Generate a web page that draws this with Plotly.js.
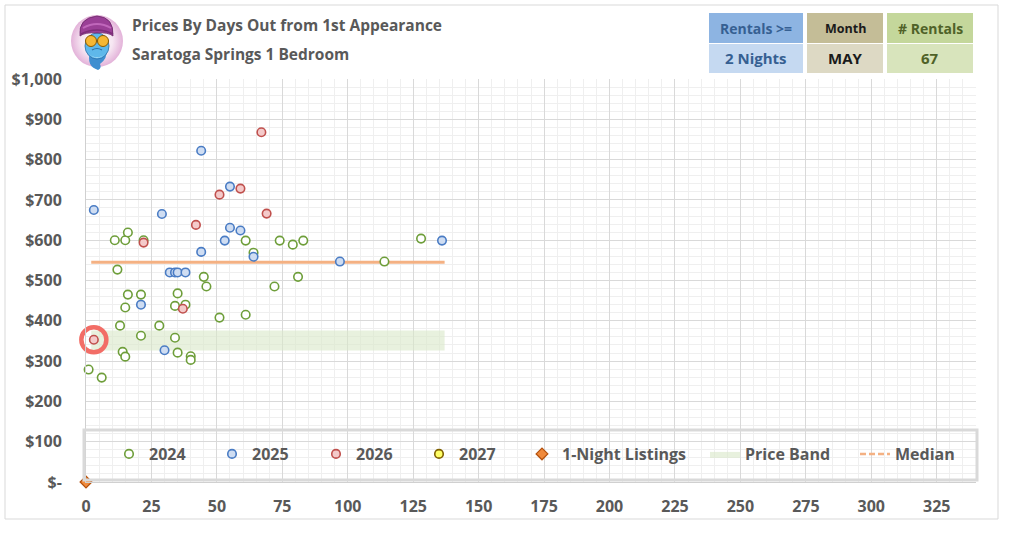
<!DOCTYPE html>
<html>
<head>
<meta charset="utf-8">
<script src="https://cdn.plot.ly/plotly-3.0.1.min.js"></script>
<style>
  html, body { margin: 0; padding: 0; background: #ffffff; }
  #wrap { position: relative; width: 1010px; height: 533px; }
  #chart { width: 1010px; height: 533px; }
  #logo { position: absolute; left: 68px; top: 12px; width: 58px; height: 60px; pointer-events: none; }
</style>
</head>
<body>
<div id="wrap">
  <div id="chart"></div>
  <svg id="logo" viewBox="0 0 58 60" xmlns="http://www.w3.org/2000/svg">
    <defs>
      <radialGradient id="halo" cx="50%" cy="50%" r="50%">
        <stop offset="0%" stop-color="#ffffff"/>
        <stop offset="60%" stop-color="#f6e6f2"/>
        <stop offset="100%" stop-color="#e3b2d9"/>
      </radialGradient>
    </defs>
    <circle cx="29" cy="29" r="26" fill="url(#halo)"/>
    <path d="M22,40 Q18,54 30,58 Q34,56 32,52 Q40,46 38,38 Z" fill="#3f8fd0"/>
    <ellipse cx="29" cy="34" rx="12" ry="13" fill="#5fb8ea" stroke="#2c6fa8" stroke-width="0.8"/>
    <path d="M21,42 Q29,50 37,42 Q33,46 29,45 Q25,46 21,42 Z" fill="#a8dcf7"/>
    <path d="M12,24 Q10,6 29,4 Q46,5 45,24 Q40,20 29,21 Q17,20 12,24 Z" fill="#9a3f96" stroke="#6b2668" stroke-width="0.8"/>
    <path d="M15,16 Q29,8 43,16" stroke="#c067bb" stroke-width="2" fill="none"/>
    <path d="M13,22 Q29,14 45,22" stroke="#7d2d79" stroke-width="1.5" fill="none"/>
    <circle cx="23" cy="29" r="5.5" fill="#f7b733" stroke="#8a5a00" stroke-width="1"/>
    <circle cx="35" cy="29" r="5.5" fill="#f7b733" stroke="#8a5a00" stroke-width="1"/>
    <path d="M28.5,29 h1" stroke="#8a5a00" stroke-width="1"/>
    <path d="M24,38 Q29,35 34,38" stroke="#2c6fa8" stroke-width="1.2" fill="none"/>
  </svg>
</div>
<script>
// ---------------- DATA ----------------
const x2024 = [11, 15, 16, 22, 12, 61, 45, 46, 16, 21, 15, 35, 34, 38, 51, 61, 13, 28, 21, 34, 14, 15, 35, 40, 40, 1, 6, 74, 79, 83, 64, 81, 72, 114, 128];
const y2024 = [600, 600, 619, 600, 527, 599, 509, 485, 465, 465, 433, 468, 437, 440, 408, 415, 388, 388, 363, 358, 323, 311, 321, 312, 303, 279, 259, 599, 589, 599, 569, 509, 485, 547, 604];

const x2025 = [3, 29, 44, 55, 55, 59, 53, 44, 32, 34, 35, 38, 21, 30, 64, 97, 136];
const y2025 = [675, 665, 822, 733, 631, 624, 599, 571, 520, 520, 520, 520, 440, 327, 559, 547, 599];

const x2026 = [22, 51, 59, 42, 37, 3, 67, 69];
const y2026 = [594, 713, 728, 638, 430, 353, 868, 666];

// no 2027 listings yet (legend entry only)
const x2027 = [null];
const y2027 = [null];

const oneNightX = [0];
const oneNightY = [0];

const medianX = [2, 137];
const medianValue = 545;

const bandX = [2, 137];
const bandLow = 326;
const bandHigh = 376;

const highlightSeriesIndex = 5; // the highlighted 2026 listing

const xTickVals = [0, 25, 50, 75, 100, 125, 150, 175, 200, 225, 250, 275, 300, 325];
const yTickVals = [0, 100, 200, 300, 400, 500, 600, 700, 800, 900, 1000];
const yTickLabels = ['$-', '$100', '$200', '$300', '$400', '$500', '$600', '$700', '$800', '$900', '$1,000'];

const titleLine1 = 'Prices By Days Out from 1st Appearance';
const titleLine2 = 'Saratoga Springs 1 Bedroom';
const boxHeaders = ['Rentals >=', 'Month', '# Rentals'];
const boxValues = ['2 Nights', 'MAY', '67'];

// ---------------- GEOMETRY (pixels -> paper) ----------------
const L = 86, R = 976, T = 79, B = 482;
function px(v) { return (v - L) / (R - L); }
function py(v) { return (B - v) / (B - T); }

const FONT = 'Open Sans, Noto Sans, sans-serif';
const GREY = '#595959';

// ---------------- TRACES ----------------
const traces = [];

traces.push({
  type: 'scatter', mode: 'lines', name: 'Price Band',
  x: [bandX[0], bandX[1], bandX[1], bandX[0], bandX[0]],
  y: [bandLow, bandLow, bandHigh, bandHigh, bandLow],
  fill: 'toself', fillcolor: 'rgba(216,232,200,0.6)',
  line: { width: 0, color: 'rgba(0,0,0,0)' },
  legend: 'legend6', hoverinfo: 'skip'
});

traces.push({
  type: 'scatter', mode: 'lines', name: 'Median',
  x: medianX, y: medianX.map(() => medianValue),
  line: { color: '#F4B183', width: 3 },
  showlegend: false, hoverinfo: 'skip'
});

traces.push({
  type: 'scatter', mode: 'lines', name: 'Median',
  x: [null], y: [null],
  line: { color: '#F4B183', width: 2.5, dash: '6px,3px' },
  legend: 'legend7'
});

function series(name, xs, ys, lineColor, fillColor, leg) {
  return {
    type: 'scatter', mode: 'markers', name: name, x: xs, y: ys,
    marker: { symbol: 'circle', size: 8.5, color: fillColor, line: { color: lineColor, width: 1.6 } },
    legend: leg, cliponaxis: false
  };
}
traces.push(series('2024', x2024, y2024, '#6E9E3A', '#FFFFFF', 'legend'));
traces.push(series('2025', x2025, y2025, '#4A7CC4', '#CFDDF2', 'legend2'));
traces.push(series('2026', x2026, y2026, '#C0504D', '#F4CACA', 'legend3'));
traces.push(series('2027', x2027, y2027, '#7F6000', '#FFFF66', 'legend4'));

traces.push({
  type: 'scatter', mode: 'markers', name: '1-Night Listings',
  x: oneNightX, y: oneNightY,
  marker: { symbol: 'diamond', size: 9, color: '#F08A3C', line: { color: '#B4520F', width: 1.3 } },
  legend: 'legend5', cliponaxis: false
});

traces.push({
  type: 'scatter', mode: 'markers', name: 'highlight',
  x: [x2026[highlightSeriesIndex]], y: [y2026[highlightSeriesIndex]],
  marker: { symbol: 'circle', size: 25, color: 'rgba(255,255,255,0)', line: { color: '#F26D66', width: 4.5 } },
  showlegend: false, hoverinfo: 'skip', cliponaxis: false
});

// ---------------- LAYOUT ----------------
function legendAt(leftPx) {
  return {
    x: px(leftPx), xanchor: 'left', y: py(454), yanchor: 'middle',
    orientation: 'h', bgcolor: 'rgba(0,0,0,0)', borderwidth: 0,
    font: { family: FONT, size: 16, color: GREY, weight: 'bold' },
    itemclick: false, itemdoubleclick: false
  };
}

const shapes = [
  // outer frame
  { type: 'rect', xref: 'paper', yref: 'paper', x0: px(5), x1: px(998), y0: py(519), y1: py(5),
    line: { color: '#D9D9D9', width: 1 }, fillcolor: 'rgba(0,0,0,0)', layer: 'above' },
  // legend frame
  { type: 'rect', xref: 'paper', yref: 'paper', x0: px(84), x1: px(977), y0: py(480), y1: py(430),
    line: { color: '#D9D9D9', width: 3 }, fillcolor: 'rgba(0,0,0,0)', layer: 'above' }
];

const boxes = [
  { x0: 709, x1: 803, head: '#8DB4E2', body: '#C5D9F1', color: '#366092', hs: 14, vs: 15 },
  { x0: 807, x1: 883, head: '#C4BD97', body: '#DDD9C4', color: '#1a1a1a', hs: 12.5, vs: 15 },
  { x0: 887, x1: 973, head: '#C4D79B', body: '#D8E4BC', color: '#4F6228', hs: 14, vs: 15 }
];
const annotations = [
  { text: titleLine1, xref: 'paper', yref: 'paper', x: px(130), y: py(25), xanchor: 'left', yanchor: 'middle',
    showarrow: false, font: { family: FONT, size: 15.5, color: GREY, weight: 'bold' } },
  { text: titleLine2, xref: 'paper', yref: 'paper', x: px(130), y: py(54), xanchor: 'left', yanchor: 'middle',
    showarrow: false, font: { family: FONT, size: 15.5, color: GREY, weight: 'bold' } }
];
boxes.forEach((b, i) => {
  shapes.push({ type: 'rect', xref: 'paper', yref: 'paper', x0: px(b.x0), x1: px(b.x1), y0: py(43), y1: py(13),
    line: { width: 0 }, fillcolor: b.head, layer: 'above' });
  shapes.push({ type: 'rect', xref: 'paper', yref: 'paper', x0: px(b.x0), x1: px(b.x1), y0: py(73), y1: py(44),
    line: { width: 0 }, fillcolor: b.body, layer: 'above' });
  annotations.push({ text: boxHeaders[i], xref: 'paper', yref: 'paper', x: px((b.x0 + b.x1) / 2), y: py(28.5),
    xanchor: 'center', yanchor: 'middle', showarrow: false,
    font: { family: FONT, size: b.hs, color: b.color, weight: 'bold' } });
  annotations.push({ text: boxValues[i], xref: 'paper', yref: 'paper', x: px((b.x0 + b.x1) / 2), y: py(58.5),
    xanchor: 'center', yanchor: 'middle', showarrow: false,
    font: { family: FONT, size: b.vs, color: b.color, weight: 'bold' } });
});

const layout = {
  width: 1010, height: 533,
  margin: { l: L, r: 1010 - R, t: T, b: 533 - B, pad: 0 },
  paper_bgcolor: '#FFFFFF', plot_bgcolor: '#FFFFFF',
  font: { family: FONT, color: GREY },
  showlegend: true,
  xaxis: {
    range: [0, 340], tickmode: 'array', tickvals: xTickVals,
    showgrid: true, gridcolor: '#D9D9D9', gridwidth: 1,
    minor: { dtick: 5, tick0: 0, showgrid: true, gridcolor: '#EFEFEF', gridwidth: 1 },
    zeroline: false, showline: true, linecolor: '#D0D0D0', linewidth: 1,
    ticks: '', ticklabelstandoff: 10,
    tickfont: { family: FONT, size: 16, color: GREY, weight: 'bold' },
    fixedrange: true
  },
  yaxis: {
    range: [0, 1000], tickmode: 'array', tickvals: yTickVals, ticktext: yTickLabels,
    showgrid: true, gridcolor: '#D9D9D9', gridwidth: 1,
    minor: { dtick: 20, tick0: 0, showgrid: true, gridcolor: '#EFEFEF', gridwidth: 1 },
    zeroline: false, showline: true, linecolor: '#D0D0D0', linewidth: 1,
    ticks: '', ticklabelstandoff: 20,
    tickfont: { family: FONT, size: 16, color: GREY, weight: 'bold' },
    fixedrange: true
  },
  legend: legendAt(109),
  legend2: legendAt(212),
  legend3: legendAt(316),
  legend4: legendAt(419),
  legend5: legendAt(522),
  legend6: legendAt(705),
  legend7: legendAt(855),
  shapes: shapes,
  annotations: annotations
};

Plotly.newPlot('chart', traces, layout, { displayModeBar: false, staticPlot: true });
</script>
</body>
</html>
